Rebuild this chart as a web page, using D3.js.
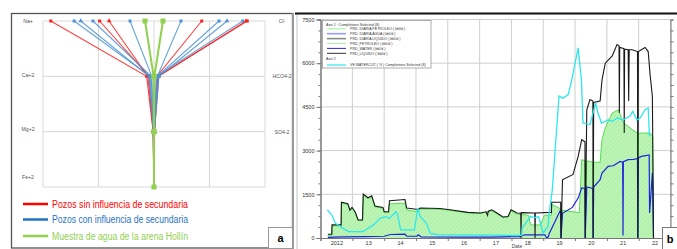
<!DOCTYPE html>
<html>
<head>
<meta charset="utf-8">
<script src="https://cdn.jsdelivr.net/npm/d3@7"></script>
<style>
  body { margin: 0; background: #fff; }
  svg { display: block; font-family: "Liberation Sans", Arial, sans-serif; }
</style>
</head>
<body>
<div id="chart"></div>
<script>

// ---------- Panel a : Stiff diagram data ----------
const cationLabels = ["Na+", "Ca+2", "Mg+2", "Fe+2"];
const anionLabels = ["Cl-", "HCO4-2", "SO4-2"];

// one entry per water sample: group 0 = sin influencia, 1 = con influencia, 2 = arena Hollin
const sampleGroups = [0, 0, 0, 1, 1, 1, 1, 2];
const naValues   = [93, 49, 40.5, 72, 66, 55, 21.6, 8.1];
const caValues   = [6.6, 4.5, 5.5, 3.5, 4.5, 2.5, 2, 0.3];
const mgValues   = [0.8, 0.6, 0.5, 0.7, 0.4, 0.6, 0.3, 0.1];
const feValues   = [0.2, 0.1, 0.2, 0.1, 0.2, 0.1, 0.1, 0];
const clValues   = [84, 43, 83, 58.6, 65.8, 80, 24.3, 8.1];
const hco3Values = [3.5, 2.5, 4.2, 3, 4.5, 2, 3, 0.3];
const so4Values  = [0.4, 0.3, 0.5, 0.3, 0.4, 0.2, 0.3, 0.1];
const sampleMarkers = ["square", "square", "triangle", "square", "triangle", "square", "square", "square"];

const legendLabelsA = [
  "Pozos sin influencia de secundaria",
  "Pozos con influencia de secundaria",
  "Muestra de agua de la arena Hollín"
];

// ---------- Panel b : production history ----------
const yearLabels = ["2012", "13", "14", "15", "16", "17", "18", "19", "20", "21", "22"];

const legendLabelsB = [
  "PRD. DIARIA PETROLEO ( bbl/d )",
  "PRD. DIARIA AGUA ( bbl/d )",
  "PRD. DIARIA LIQUIDO ( bbl/d )",
  "PRD_PETROLEO ( bbl/d )",
  "PRD_WATER ( bbl/d )",
  "PRD_LIQUIDO ( bbl/d )"
];

// liquid rate, bbl/d
const liquidSeries = [
  ["2012-03-25", 130], ["2012-05-10", 130], ["2012-05-12", 450], ["2012-08-25", 450],
  ["2012-08-28", 1230], ["2012-11-10", 1180], ["2012-12-04", 960], ["2012-12-28", 1050],
  ["2013-02-01", 900], ["2013-03-08", 620], ["2013-04-27", 620], ["2013-05-06", 1510],
  ["2013-06-29", 1380], ["2013-08-11", 1450], ["2013-09-17", 1100], ["2013-12-18", 1050],
  ["2014-01-01", 900], ["2014-02-20", 900], ["2014-03-03", 1280], ["2014-08-28", 1320],
  ["2014-09-16", 1030], ["2015-01-26", 980], ["2015-02-18", 1030], ["2015-10-04", 1010],
  ["2016-01-04", 980], ["2016-08-22", 880], ["2017-01-07", 860], ["2017-03-15", 900],
  ["2017-04-02", 780], ["2017-04-10", 920], ["2017-05-22", 970], ["2017-07-19", 860],
  ["2017-09-26", 720], ["2017-11-23", 740], ["2017-12-28", 970], ["2018-03-07", 860],
  ["2018-04-18", 850], ["2018-04-21", 0], ["2018-04-24", 870], ["2018-09-26", 860],
  ["2018-09-29", 0], ["2018-10-02", 860], ["2019-04-05", 880], ["2019-04-08", 1225],
  ["2019-07-20", 1225], ["2019-07-24", 0], ["2019-08-10", 2000], ["2019-12-09", 2180],
  ["2020-02-06", 2800], ["2020-03-18", 3375], ["2020-04-24", 3300], ["2020-04-27", 0],
  ["2020-05-15", 4400], ["2020-06-21", 4750], ["2020-07-24", 4700], ["2020-07-27", 0],
  ["2020-08-02", 4650], ["2020-10-15", 4700], ["2020-11-06", 5430], ["2020-12-13", 6000],
  ["2021-03-03", 6250], ["2021-04-27", 6640], ["2021-05-20", 6600], ["2021-05-24", 4300],
  ["2021-05-28", 6550], ["2021-07-15", 6500], ["2021-07-19", 3600], ["2021-07-23", 6480],
  ["2021-09-02", 6460], ["2021-09-08", 4700], ["2021-09-14", 6460], ["2021-10-19", 6460],
  ["2021-12-18", 6400], ["2021-12-22", 0], ["2021-12-28", 6400], ["2022-03-15", 6540],
  ["2022-04-20", 6400], ["2022-05-12", 5600], ["2022-06-07", 4860], ["2022-06-20", 0]
];

// oil rate, bbl/d
const oilSeries = [
  ["2012-03-25", 100], ["2012-05-10", 100], ["2012-05-12", 420], ["2012-08-25", 420],
  ["2012-08-28", 1200], ["2012-11-10", 1150], ["2012-12-04", 930], ["2012-12-28", 1020],
  ["2013-02-01", 870], ["2013-03-08", 600], ["2013-04-27", 600], ["2013-05-06", 1480],
  ["2013-06-29", 1350], ["2013-08-11", 1420], ["2013-09-17", 1070], ["2013-12-18", 1020],
  ["2014-01-01", 870], ["2014-02-20", 870], ["2014-03-03", 1170], ["2014-08-28", 1200],
  ["2014-09-16", 960], ["2015-01-26", 900], ["2015-02-18", 1000], ["2015-10-04", 990],
  ["2016-01-04", 960], ["2016-08-22", 860], ["2017-01-07", 840], ["2017-05-22", 930],
  ["2017-07-19", 830], ["2017-09-26", 700], ["2017-11-23", 720], ["2017-12-28", 930],
  ["2018-03-07", 820], ["2018-07-15", 780], ["2018-08-10", 450], ["2018-12-01", 450],
  ["2019-01-15", 780], ["2019-04-05", 780], ["2019-04-08", 1150], ["2019-07-20", 1000],
  ["2019-07-24", 0], ["2019-08-10", 950], ["2019-12-09", 900], ["2020-02-20", 870],
  ["2020-03-18", 2690], ["2020-04-24", 2650], ["2020-04-27", 0], ["2020-05-15", 2650],
  ["2020-07-24", 2600], ["2020-07-27", 0], ["2020-08-02", 2600], ["2020-10-15", 2600],
  ["2020-11-06", 3380], ["2020-12-13", 3780], ["2021-03-03", 4290], ["2021-05-15", 4400],
  ["2021-07-10", 3950], ["2021-10-19", 3720], ["2021-12-18", 3600], ["2021-12-22", 0],
  ["2021-12-28", 3600], ["2022-05-12", 3600], ["2022-06-10", 3500], ["2022-06-20", 0]
];

// water rate, bbl/d
const waterSeries = [
  ["2012-03-25", 20], ["2012-09-01", 40], ["2013-06-01", 50], ["2014-01-01", 60],
  ["2014-03-15", 120], ["2014-08-28", 130], ["2014-09-16", 60], ["2015-01-10", 60],
  ["2015-01-26", 110], ["2015-03-01", 40], ["2016-06-01", 30], ["2017-06-01", 30],
  ["2018-04-01", 50], ["2018-06-01", 110], ["2019-01-20", 110], ["2019-02-10", 0],
  ["2019-03-01", 40], ["2019-03-10", 150], ["2019-07-20", 970], ["2019-07-24", 0],
  ["2019-08-10", 850], ["2019-12-01", 1050], ["2020-02-06", 1370], ["2020-03-18", 1720],
  ["2020-04-24", 1700], ["2020-04-27", 0], ["2020-05-15", 1750], ["2020-07-24", 1700],
  ["2020-07-27", 0], ["2020-08-02", 1750], ["2020-10-15", 2000], ["2020-11-06", 2230],
  ["2021-01-15", 2460], ["2021-03-15", 2480], ["2021-06-01", 2630], ["2021-07-01", 2600],
  ["2021-07-05", 90], ["2021-07-09", 2620], ["2021-09-02", 2690], ["2021-11-01", 2700],
  ["2021-12-18", 2720], ["2021-12-22", 0], ["2021-12-28", 2750], ["2022-02-01", 2800],
  ["2022-05-01", 2850], ["2022-05-06", 860], ["2022-06-07", 2230], ["2022-06-20", 0]
];

// water cut, %
const watercutSeries = [
  ["2012-03-20", 12.8], ["2012-05-10", 10.5], ["2012-06-20", 6.7], ["2012-09-15", 4.4],
  ["2012-11-20", 2.9], ["2013-05-01", 2.9], ["2013-06-15", 4.0], ["2013-09-01", 6.0],
  ["2013-11-15", 9.0], ["2014-01-20", 9.8], ["2014-03-01", 9.0], ["2014-05-15", 12.0],
  ["2014-06-01", 11.0], ["2014-07-10", 3.7], ["2014-12-15", 3.7], ["2015-01-20", 13.6],
  ["2015-02-20", 9.8], ["2015-05-01", 6.7], ["2015-06-15", 2.1], ["2015-09-01", 1.5],
  ["2018-01-01", 1.2], ["2018-04-28", 1.2], ["2018-05-05", 4.6], ["2018-08-10", 9.9],
  ["2018-09-20", 9.3], ["2018-11-10", 9.7], ["2018-12-30", 2.3], ["2019-02-25", 5.3],
  ["2019-03-10", 11.4], ["2019-04-15", 22], ["2019-07-01", 65], ["2019-08-15", 64],
  ["2019-10-15", 65.6], ["2019-11-25", 72.4], ["2020-02-05", 87], ["2020-03-15", 72],
  ["2020-04-01", 52.6], ["2020-06-20", 51.9], ["2020-08-25", 61.8], ["2020-09-20", 57.2],
  ["2020-11-01", 52.6], ["2021-01-15", 54], ["2021-03-10", 53.5], ["2021-05-05", 55],
  ["2021-07-01", 54], ["2021-09-20", 55.7], ["2021-10-25", 58], ["2021-12-10", 54],
  ["2022-01-20", 55], ["2022-03-15", 58.7], ["2022-04-20", 59.5], ["2022-05-05", 46.5]
];


const svg = d3.select("#chart")
  .append("svg")
  .attr("width", 677)
  .attr("height", 249);

svg.append("rect").attr("width", 677).attr("height", 249).attr("fill", "#fff");

// Hatched fill used by the oil area.
const hatch = svg.append("defs").append("pattern")
  .attr("id", "oilHatch")
  .attr("patternUnits", "userSpaceOnUse")
  .attr("width", 3).attr("height", 3)
  .attr("patternTransform", "rotate(45)");
hatch.append("rect").attr("width", 3).attr("height", 3).attr("fill", "#bdf5b6");
hatch.append("line")
  .attr("x1", 0).attr("x2", 0).attr("y1", 0).attr("y2", 3)
  .attr("stroke", "#9fe896").attr("stroke-width", 1);

/**
 * Panel a.
 */

const groupColors = ["#ff2020", "#4a93d6", "#92d050"];
const legendColorsA = ["#ff0000", "#1f73c4", "#92d050"];

const xA = d3.scaleLinear().domain([-100, 100]).range([43, 265]);
const yA = d3.scaleLinear().domain([0, 3]).range([21, 187]);

// Frame of the panel.
svg.append("rect")
  .attr("x", 11.5).attr("y", 13.5)
  .attr("width", 281).attr("height", 234.5)
  .attr("fill", "none").attr("stroke", "#555").attr("stroke-width", 1.3);
svg.append("line")
  .attr("x1", 293).attr("x2", 293).attr("y1", 13).attr("y2", 249)
  .attr("stroke", "#9a9a9a").attr("stroke-width", 2);
svg.append("line")
  .attr("x1", 297).attr("x2", 297).attr("y1", 13).attr("y2", 249)
  .attr("stroke", "#c4c4c4").attr("stroke-width", 1);

// Grid.
const gridA = svg.append("g").attr("stroke", "#d9d9d9").attr("stroke-width", 1);
gridA.selectAll("line.v")
  .data(xA.ticks(4))
  .join("line")
  .attr("x1", d => xA(d)).attr("x2", d => xA(d))
  .attr("y1", yA(0)).attr("y2", yA(3));
gridA.selectAll("line.h")
  .data(d3.range(4))
  .join("line")
  .attr("x1", xA(-100)).attr("x2", xA(100))
  .attr("y1", d => yA(d)).attr("y2", d => yA(d));

// Ion labels.
svg.append("g")
  .selectAll("text")
  .data(cationLabels)
  .join("text")
  .attr("x", 28)
  .attr("y", (d, i) => yA(i) + [2, 1, -1, -8][i])
  .attr("text-anchor", "middle")
  .attr("font-size", 5.2)
  .attr("fill", "#555")
  .text(d => d);
svg.append("g")
  .selectAll("text")
  .data(anionLabels)
  .join("text")
  .attr("x", 282)
  .attr("y", (d, i) => yA(i) + 2)
  .attr("text-anchor", "middle")
  .attr("font-size", 5.2)
  .attr("fill", "#555")
  .text(d => d);

// Sample polygons.
const stiffLine = d3.line().x(d => xA(d[0])).y(d => yA(d[1]));
const samplePoints = sampleGroups.map((g, i) => [
  [-naValues[i], 0], [-caValues[i], 1], [-mgValues[i], 2], [-feValues[i], 3],
  [so4Values[i], 2], [hco3Values[i], 1], [clValues[i], 0]
]);

const samples = svg.append("g")
  .selectAll("g")
  .data(samplePoints)
  .join("g");

samples.append("path")
  .attr("d", stiffLine)
  .attr("fill", "none")
  .attr("stroke", (d, i) => groupColors[sampleGroups[i]])
  .attr("stroke-width", (d, i) => sampleGroups[i] == 2 ? 2 : 1.1)
  .attr("stroke-opacity", (d, i) => sampleGroups[i] == 2 ? 1 : 0.85);

samples.each(function (pts, i) {
  const g = sampleGroups[i];
  const size = g == 2 ? 5 : 3;
  const symbol = d3.symbol()
    .type(sampleMarkers[i] == "triangle" ? d3.symbolTriangle : d3.symbolSquare)
    .size(size * size);
  d3.select(this).selectAll("path.mk")
    .data(pts)
    .join("path")
    .attr("class", "mk")
    .attr("transform", d => `translate(${xA(d[0])},${yA(d[1])})`)
    .attr("d", symbol)
    .attr("fill", groupColors[g]);
});

// Legend.
const legendA = svg.append("g")
  .selectAll("g")
  .data(legendLabelsA)
  .join("g")
  .attr("transform", (d, i) => `translate(0, ${[204, 219.5, 236][i]})`);
legendA.append("line")
  .attr("x1", 23).attr("x2", 48)
  .attr("stroke", (d, i) => legendColorsA[i])
  .attr("stroke-width", 2.5);
legendA.append("text")
  .attr("x", 52)
  .attr("y", 3.5)
  .attr("font-size", 10)
  .attr("textLength", 136)
  .attr("lengthAdjust", "spacingAndGlyphs")
  .attr("fill", (d, i) => legendColorsA[i])
  .text(d => d);

svg.append("rect")
  .attr("x", 268.5).attr("y", 227.5).attr("width", 24).attr("height", 21)
  .attr("fill", "#fff").attr("stroke", "#999");
svg.append("text")
  .attr("x", 280.5).attr("y", 242)
  .attr("text-anchor", "middle")
  .attr("font-size", 11).attr("font-weight", "bold")
  .text("a");

/**
 * Panel b.
 */

const parse = d3.timeParse("%Y-%m-%d");
const xB = d3.scaleTime()
  .domain([new Date(2012, 0, 1), new Date(2023, 0, 1)])
  .range([320.5, 670.5]);
const yL = d3.scaleLinear().domain([0, 7500]).range([238, 19.5]);
const yR = d3.scaleLinear().domain([0, 100]).range([238, 19.5]);

svg.append("line")
  .attr("x1", 295).attr("x2", 677).attr("y1", 13.5).attr("y2", 13.5)
  .attr("stroke", "#111").attr("stroke-width", 2);

// Grid.
const yearStarts = d3.range(2012, 2024).map(y => new Date(y, 0, 1));
const gridB = svg.append("g").attr("stroke", "#cfcfcf").attr("stroke-width", 1);
gridB.selectAll("line.v")
  .data(yearStarts.slice(1))
  .join("line")
  .attr("x1", d => xB(d)).attr("x2", d => xB(d))
  .attr("y1", yL(7500)).attr("y2", yL(0));
gridB.selectAll("line.h")
  .data(d3.range(1500, 7501, 1500))
  .join("line")
  .attr("x1", xB.range()[0]).attr("x2", xB.range()[1])
  .attr("y1", d => yL(d)).attr("y2", d => yL(d));

// Oil area.
const toPoints = s => s.map(d => ({ date: parse(d[0]), value: d[1] }));
const oil = toPoints(oilSeries);
const water = toPoints(waterSeries);
const liquid = toPoints(liquidSeries);
const watercut = toPoints(watercutSeries);

svg.append("path")
  .datum(oil)
  .attr("fill", "url(#oilHatch)")
  .attr("d", d3.area().x(d => xB(d.date)).y0(yL(0)).y1(d => yL(d.value)));
svg.append("path")
  .datum(oil)
  .attr("fill", "none")
  .attr("stroke", "#45d845")
  .attr("stroke-width", 0.9)
  .attr("d", d3.line().x(d => xB(d.date)).y(d => yL(d.value)));

// Water, liquid and water cut.
svg.append("path")
  .datum(water)
  .attr("fill", "none")
  .attr("stroke", "#1f24e0")
  .attr("stroke-width", 1.2)
  .attr("d", d3.line().x(d => xB(d.date)).y(d => yL(d.value)));
svg.append("path")
  .datum(liquid)
  .attr("fill", "none")
  .attr("stroke", "#1a1a1a")
  .attr("stroke-width", 1.1)
  .attr("d", d3.line().x(d => xB(d.date)).y(d => yL(d.value)));
svg.append("path")
  .datum(watercut)
  .attr("fill", "none")
  .attr("stroke", "#2ee6ee")
  .attr("stroke-width", 1.3)
  .attr("d", d3.line().x(d => xB(d.date)).y(d => yR(d.value)));

// Axes.
const styleAxis = g => {
  g.selectAll("path.domain").attr("stroke", "#777");
  g.selectAll(".tick line").attr("stroke", "#777");
  g.selectAll(".tick text").attr("fill", "#333").attr("font-size", 5.5)
    .attr("font-family", "Liberation Sans, Arial, sans-serif");
};

svg.append("g")
  .attr("transform", "translate(320.5,0)")
  .call(d3.axisLeft(yL).tickValues(d3.range(0, 7501, 375)).tickSize(2).tickFormat(""))
  .call(styleAxis);
svg.append("g")
  .attr("transform", "translate(320.5,0)")
  .call(d3.axisLeft(yL).tickValues(d3.range(0, 7501, 1500)).tickSize(4).tickPadding(2)
    .tickFormat(d3.format("d")))
  .call(styleAxis);
svg.append("g")
  .attr("transform", "translate(670.5,0)")
  .call(d3.axisRight(yR).tickValues(d3.range(0, 101, 5)).tickSize(3).tickFormat(""))
  .call(styleAxis);

svg.append("g")
  .attr("transform", `translate(0,${yL(0)})`)
  .call(d3.axisBottom(xB).tickValues(yearStarts).tickSize(3).tickFormat(""))
  .call(styleAxis);
svg.append("g")
  .attr("transform", `translate(0,${yL(0)})`)
  .call(d3.axisBottom(xB)
    .tickValues(yearStarts.slice(0, 11).map(d => new Date(d.getFullYear(), 6, 1)))
    .tickSize(0).tickPadding(3)
    .tickFormat((d, i) => yearLabels[i]))
  .call(g => g.select("path.domain").remove())
  .call(styleAxis);

svg.append("text")
  .attr("x", 517).attr("y", 248)
  .attr("text-anchor", "middle")
  .attr("font-size", 5)
  .attr("fill", "#444")
  .text("Date");

// Legend box.
const legendB = svg.append("g");
legendB.append("rect")
  .attr("x", 322.5).attr("y", 20.5).attr("width", 108.5).attr("height", 47.5)
  .attr("fill", "#fff").attr("stroke", "#999").attr("stroke-width", 0.8);
legendB.append("text")
  .attr("x", 326).attr("y", 25.5)
  .attr("font-size", 3.6).attr("fill", "#333")
  .text("Axis 1 : Completions Selected (8)");
legendB.append("text")
  .attr("x", 326).attr("y", 60)
  .attr("font-size", 3.6).attr("fill", "#333")
  .text("Axis 2");

const legendColorsB = ["#7cf27c", "#9a9aff", "#8a8a8a", "#a8f5a8", "#2a2ae0", "#333"];
const legendWidthsB = [0.8, 1.6, 1.6, 1, 1, 1];
const itemsB = legendB.selectAll("g")
  .data(legendLabelsB)
  .join("g")
  .attr("transform", (d, i) => `translate(0, ${28.8 + i * 4.9})`);
itemsB.append("line")
  .attr("x1", 327).attr("x2", 346)
  .attr("stroke", (d, i) => legendColorsB[i])
  .attr("stroke-width", (d, i) => legendWidthsB[i]);
itemsB.append("text")
  .attr("x", 350).attr("y", 1.3)
  .attr("font-size", 3.6).attr("fill", "#333")
  .text(d => d);

legendB.append("line")
  .attr("x1", 327).attr("x2", 346).attr("y1", 65).attr("y2", 65)
  .attr("stroke", "#2ee6ee").attr("stroke-width", 1.2);
legendB.append("text")
  .attr("x", 350).attr("y", 66.3)
  .attr("font-size", 3.6).attr("fill", "#333")
  .text("VE WATERCUT ( % ) Completions Selected (8)");

// Panel tag.
svg.append("rect")
  .attr("x", 662.5).attr("y", 227.5).attr("width", 16).attr("height", 23)
  .attr("fill", "#fff").attr("stroke", "#777");
svg.append("text")
  .attr("x", 670).attr("y", 243)
  .attr("text-anchor", "middle")
  .attr("font-size", 11).attr("font-weight", "bold")
  .text("b");

</script>
</body>
</html>
